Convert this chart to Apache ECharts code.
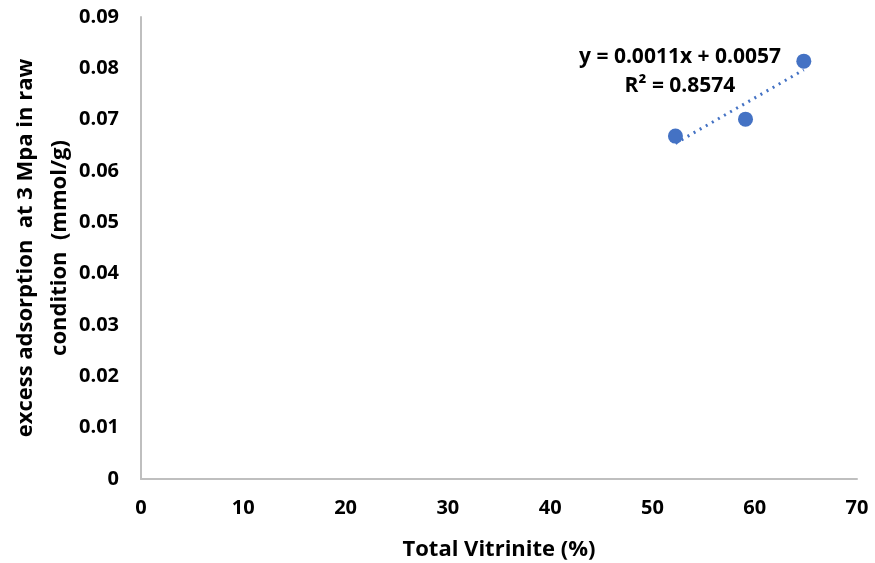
<!DOCTYPE html>
<html>
<head>
<meta charset="utf-8">
<script src="https://cdn.jsdelivr.net/npm/echarts@6/dist/echarts.min.js"></script>
<style>html,body{margin:0;padding:0;background:#fff;}#c{width:875px;height:563px;}</style>
</head>
<body>
<div id="c"></div>
<script>
const vitrinite = [52.25, 59.1, 64.8];
const adsorption = [0.0668, 0.0701, 0.0814];
const xTicks = [0, 10, 20, 30, 40, 50, 60, 70];
const yTicks = [0, 0.01, 0.02, 0.03, 0.04, 0.05, 0.06, 0.07, 0.08, 0.09];
const equationText = 'y = 0.0011x + 0.0057';
const r2Text = 'R² = 0.8574';

// least-squares linear trendline through the data points
const n = vitrinite.length;
const mx = vitrinite.reduce((a, b) => a + b, 0) / n;
const my = adsorption.reduce((a, b) => a + b, 0) / n;
let sxy = 0, sxx = 0;
for (let i = 0; i < n; i++) { sxy += (vitrinite[i] - mx) * (adsorption[i] - my); sxx += (vitrinite[i] - mx) ** 2; }
const slope = sxy / sxx, intercept = my - slope * mx;
const xMin = Math.min(...vitrinite), xMax = Math.max(...vitrinite);
const trend = [[xMin, intercept + slope * xMin], [xMax, intercept + slope * xMax]];

const font = '"Open Sans", sans-serif';
const chart = echarts.init(document.getElementById('c'));
chart.setOption({
  animation: false,
  grid: { left: 141, right: 18, top: 17, bottom: 84, containLabel: false, outerBoundsMode: 'none' },
  xAxis: {
    type: 'value', min: xTicks[0], max: xTicks[xTicks.length - 1], interval: 10,
    name: 'Total Vitrinite (%)', nameLocation: 'middle', nameGap: 60, nameMoveOverlap: false,
    nameTextStyle: { fontFamily: font, fontWeight: 'bold', fontSize: 22, color: '#000' },
    axisLine: { lineStyle: { color: '#bfbfbf', width: 2 } },
    axisTick: { show: false }, splitLine: { show: false },
    axisLabel: { margin: 19, fontFamily: font, fontWeight: 'bold', fontSize: 20, color: '#000' }
  },
  yAxis: {
    type: 'value', min: yTicks[0], max: yTicks[yTicks.length - 1], interval: 0.01,
    name: 'excess adsorption  at 3 Mpa in raw\ncondition  (mmol/g)', nameLocation: 'middle', nameGap: 64, nameMoveOverlap: false,
    nameTextStyle: { fontFamily: font, fontWeight: 'bold', fontSize: 22, color: '#000', lineHeight: 34 },
    axisLine: { show: true, lineStyle: { color: '#bfbfbf', width: 2 } },
    axisTick: { show: false }, splitLine: { show: false },
    axisLabel: { margin: 22, fontFamily: font, fontWeight: 'bold', fontSize: 20, color: '#000',
      formatter: v => v === 0 ? '0' : v.toFixed(2) }
  },
  series: [
    { type: 'line', data: trend, symbol: 'none', silent: true,
      lineStyle: { color: '#4472C4', width: 3, type: [2, 5] }, z: 1 },
    { type: 'scatter', data: vitrinite.map((x, i) => [x, adsorption[i]]), symbolSize: 15,
      itemStyle: { color: '#4472C4', opacity: 1 }, z: 2 }
  ],
  graphic: [
    { type: 'text', x: 680, y: 57, style: { text: equationText, font: 'bold 21px ' + font, fill: '#000', align: 'center', verticalAlign: 'middle' } },
    { type: 'text', x: 680, y: 86, style: { text: r2Text, font: 'bold 21px ' + font, fill: '#000', align: 'center', verticalAlign: 'middle' } }
  ]
});
</script>
</body>
</html>
